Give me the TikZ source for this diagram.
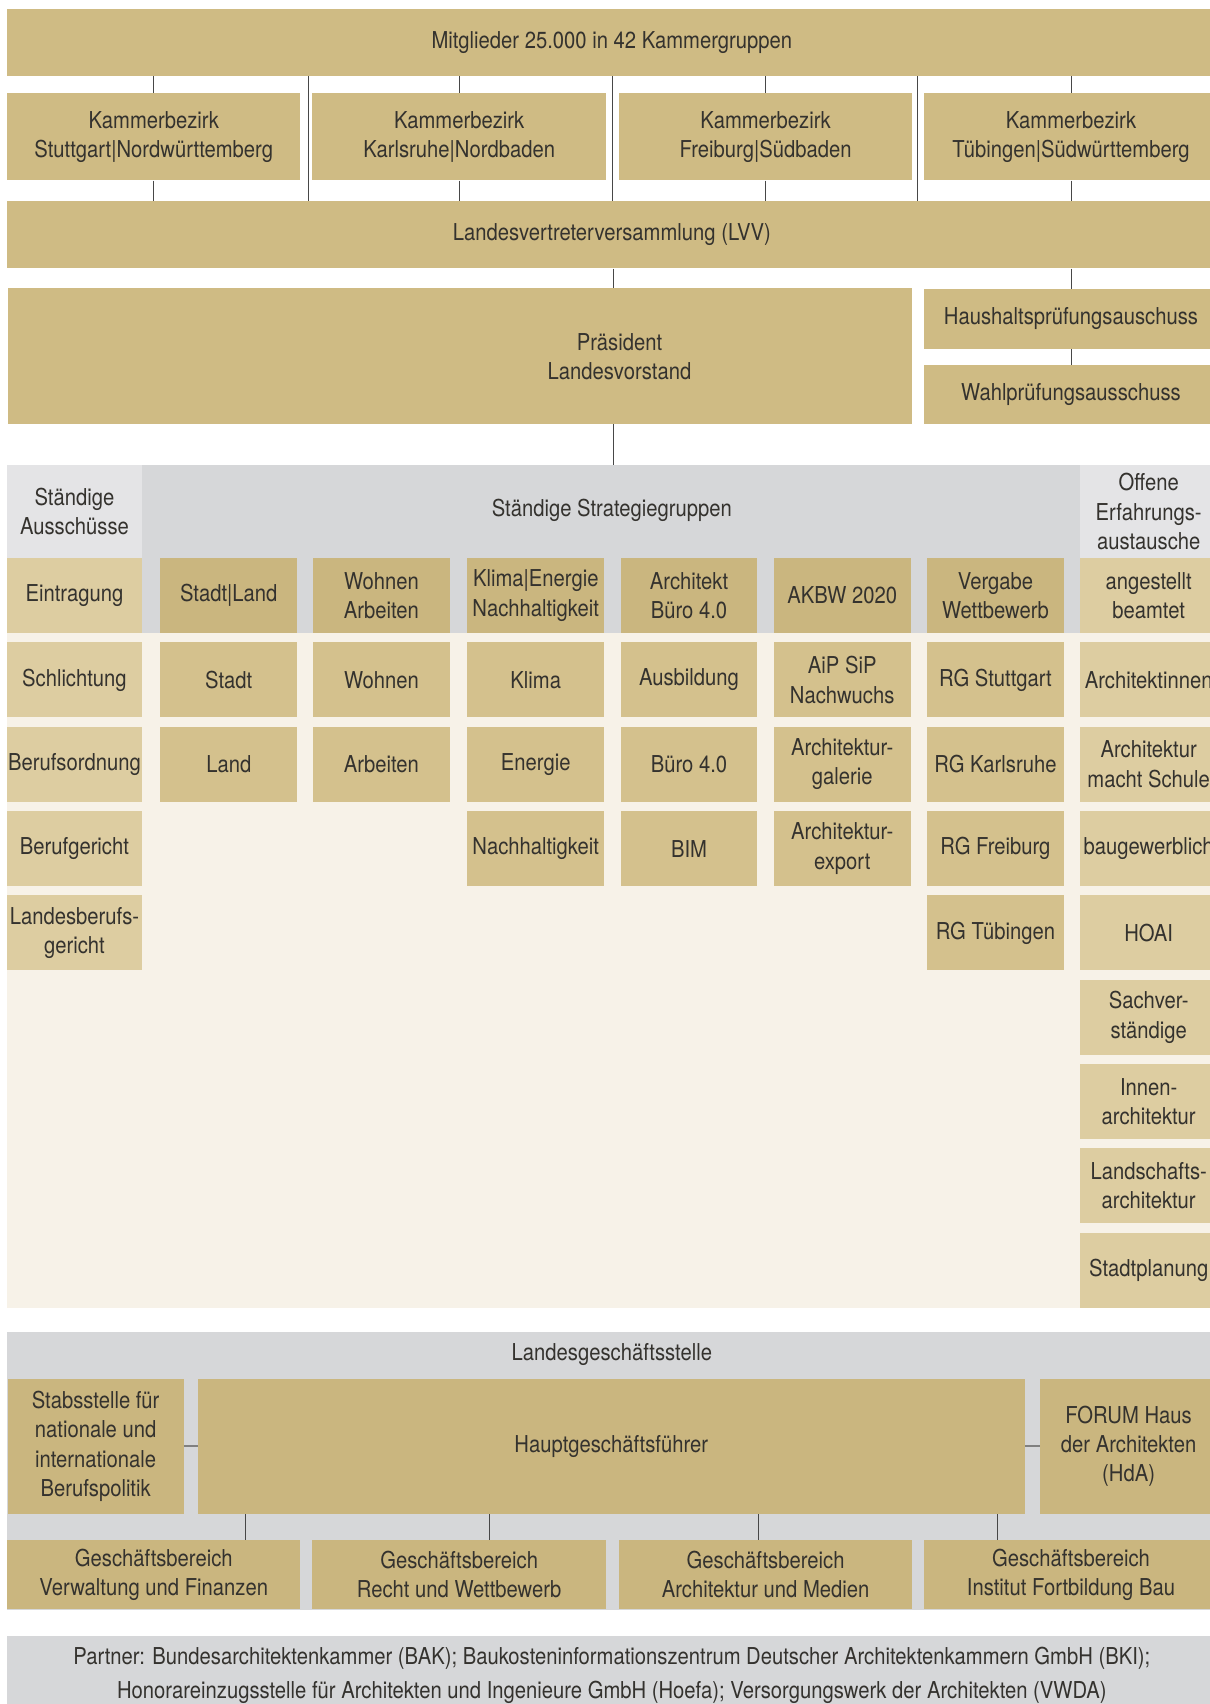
\documentclass[tikz,border=0pt]{standalone}
\usepackage{fontspec}
\setmainfont{TeX Gyre Heros}[FakeStretch=0.87]

\definecolor{gold}{HTML}{CFBB84}
\definecolor{golddark}{HTML}{CAB67F}
\definecolor{goldmid}{HTML}{D4C18D}
\definecolor{goldlight}{HTML}{DDCDA1}
\definecolor{greyband}{HTML}{D6D7D9}
\definecolor{greylight}{HTML}{E4E4E6}
\definecolor{cream}{HTML}{F7F2E8}
\definecolor{ink}{HTML}{34322E}

\tikzset{
  every node/.style={font=\fontsize{21.4pt}{27pt}\selectfont, text=ink, align=center, inner sep=0pt},
  unit/.style={fill=gold},
  cell/.style={fill=goldmid, minimum width=126pt, minimum height=69pt},
  headcell/.style={fill=golddark, minimum width=126pt, minimum height=69pt},
  sidecell/.style={fill=goldlight, minimum width=126pt, minimum height=69pt},
  wire/.style={draw=black!72, line width=0.9pt},
  link/.style={draw=black!50, line width=1.8pt}
}

\begin{document}
\begin{tikzpicture}[x=1pt, y=-1pt]
\useasboundingbox (0,0) rectangle (1113,1568);

% Kammer
\node[unit, minimum width=1114pt, minimum height=62pt] (mitglieder) at (563,39) {Mitglieder 25.000 in 42 Kammergruppen};
\foreach \i/\x/\txt in {1/141.5/{Kammerbezirk\\Stuttgart|Nordwürttemberg},
                        2/422.5/{Kammerbezirk\\Karlsruhe|Nordbaden},
                        3/704.5/{Kammerbezirk\\Freiburg|Südbaden},
                        4/985.5/{Kammerbezirk\\Tübingen|Südwürttemberg}}
  \node[unit, minimum width=270pt, minimum height=80pt] (kb\i) at (\x,126) {\txt};
\node[unit, minimum width=1114pt, minimum height=62pt] (lvv) at (563,216) {Landesvertreterversammlung (LVV)};

\foreach \i in {1,...,4} {
  \draw[wire] (mitglieder.south -| kb\i) -- (kb\i.north);
  \draw[wire] (kb\i.south) -- (lvv.north -| kb\i);
}
\foreach \i/\x in {1/284,2/564,3/844} {
  \coordinate (gap\i) at (\x,0);
  \draw[wire] (mitglieder.south -| gap\i) -- (lvv.north -| gap\i);
}

% Vorstand
\node[unit, minimum width=832pt, minimum height=125pt] (praes) at (423,327.5) {};
\node (praestxt) at (570,328.5) {Präsident\\Landesvorstand};
\node[unit, minimum width=270pt, minimum height=55pt] (haushalt) at (985.5,293.5) {Haushaltsprüfungsauschuss};
\node[unit, minimum width=270pt, minimum height=54pt] (wahl) at (985.5,363) {Wahlprüfungsausschuss};
\coordinate (mid) at (564.5,0);
\draw[wire] (lvv.south -| mid) -- (praes.north -| mid);
\draw[wire] (lvv.south -| haushalt) -- (haushalt.north);
\draw[wire] (haushalt.south) -- (wahl.north);

% Ausschuesse und Strategiegruppen
\node[fill=cream, minimum width=1114pt, minimum height=776pt] (panel) at (563,816) {};
\node[fill=greyband, minimum width=863pt, minimum height=154.5pt] (strat) at (562.5,505.25) {};
\node (strattxt) at (563,470) {Ständige Strategiegruppen};
\node[fill=greylight, minimum width=125pt, minimum height=85.5pt] (aus) at (68.5,470.75) {Ständige\\Ausschüsse};
\node[fill=greylight, minimum width=126pt, minimum height=85.5pt] (offen) at (1057,470.75) {Offene\\Erfahrungs-\\austausche};
\draw[wire] (praes.south -| mid) -- (panel.north -| mid);

\foreach \txt [count=\r] in {Eintragung, Schlichtung, Berufsordnung, Berufgericht, {Landesberufs-\\gericht}}
  \node[sidecell, minimum width=125pt] (aus\r) at (68.5,{548+(\r-1)*77.6}) {\txt};

\foreach \x/\head/\rest [count=\c] in {
    210.5/{Stadt|Land}/{Stadt,Land},
    351/{Wohnen\\Arbeiten}/{Wohnen,Arbeiten},
    493/{Klima|Energie\\Nachhaltigkeit}/{Klima,Energie,Nachhaltigkeit},
    634/{Architekt\\Büro 4.0}/{Ausbildung,Büro 4.0,BIM},
    775/{AKBW 2020}/{{AiP SiP\\Nachwuchs},{Architektur-\\galerie},{Architektur-\\export}},
    916/{Vergabe\\Wettbewerb}/{RG Stuttgart,RG Karlsruhe,RG Freiburg,RG Tübingen}} {
  \node[headcell] (sg\c) at (\x,548) {\head};
  \foreach \txt [count=\r from 2] in \rest
    \node[cell] (sg\c-\r) at (\x,{548+(\r-1)*77.6}) {\txt};
}

\foreach \txt [count=\r] in {{angestellt\\beamtet}, Architektinnen, {Architektur\\macht Schule}, baugewerblich,
                             HOAI, {Sachver-\\ständige}, {Innen-\\architektur}, {Landschafts-\\architektur}, Stadtplanung}
  \node[sidecell] (offen\r) at (1057,{548+(\r-1)*77.6}) {\txt};

% Geschaeftsstelle
\node[fill=greyband, minimum width=1114pt, minimum height=255.5pt] (lgs) at (563,1353.75) {};
\node (lgstxt) at (563,1246) {Landesgeschäftsstelle};
\node[unit, fill=golddark, minimum width=162pt, minimum height=124.5pt] (stab) at (88,1330.75) {Stabsstelle für\\nationale und\\internationale\\Berufspolitik};
\node[unit, fill=golddark, minimum width=761pt, minimum height=124.5pt] (hgf) at (562.5,1330.75) {Hauptgeschäftsführer};
\node[unit, fill=golddark, minimum width=163pt, minimum height=124.5pt] (forum) at (1038.5,1330.75) {FORUM Haus\\der Architekten\\(HdA)};
\draw[link] (stab.east) -- (hgf.west);
\draw[link] (hgf.east) -- (forum.west);

\foreach \i/\x/\txt in {1/141.5/{Geschäftsbereich\\Verwaltung und Finanzen},
                        2/422.5/{Geschäftsbereich\\Recht und Wettbewerb},
                        3/704.5/{Geschäftsbereich\\Architektur und Medien},
                        4/985.5/{Geschäftsbereich\\Institut Fortbildung Bau}}
  \node[unit, fill=golddark, minimum width=270pt, minimum height=64pt] (gb\i) at (\x,1449) {\txt};
\foreach \i/\x in {1/226,2/450,3/698,4/918} {
  \coordinate (tap\i) at (\x,0);
  \draw[wire] (hgf.south -| tap\i) -- (gb\i.north -| tap\i);
}

% Partner
\node[fill=greyband, minimum width=1114pt, minimum height=73pt,
      font=\fontsize{21.4pt}{31pt}\selectfont] (partner) at (563,1541.5)
  {Partner: Bundesarchitektenkammer (BAK); Baukosteninformationszentrum Deutscher Architektenkammern GmbH (BKI);\\
   Honorareinzugsstelle für Architekten und Ingenieure GmbH (Hoefa); Versorgungswerk der Architekten (VWDA)};
\end{tikzpicture}
\end{document}
